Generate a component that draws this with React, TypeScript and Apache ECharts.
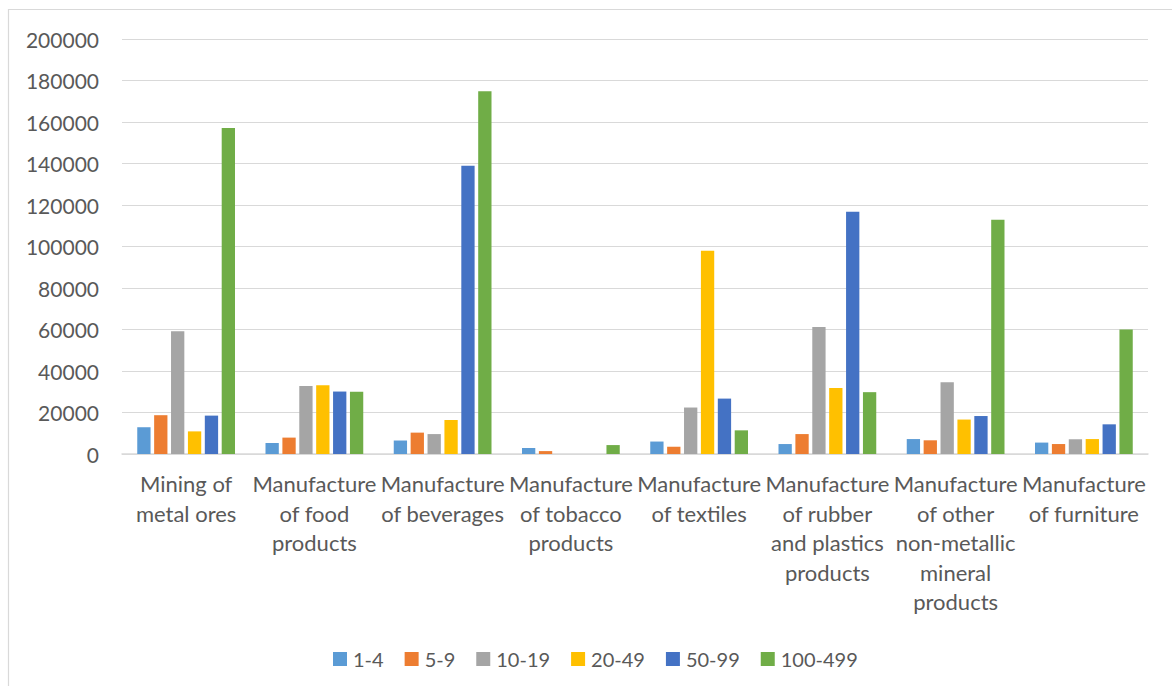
import React, { useEffect, useRef } from "react";
import * as echarts from "echarts";

// Industry groups on the category axis (line breaks as they wrap under each group)
const categories: string[] = [
  "Mining of\nmetal ores",
  "Manufacture\nof food\nproducts",
  "Manufacture\nof beverages",
  "Manufacture\nof tobacco\nproducts",
  "Manufacture\nof textiles",
  "Manufacture\nof rubber\nand plastics\nproducts",
  "Manufacture\nof other\nnon-metallic\nmineral\nproducts",
  "Manufacture\nof furniture",
];

// Size classes (number of persons employed)
const sizeClasses: string[] = ["1-4", "5-9", "10-19", "20-49", "50-99", "100-499"];

const size1to4: number[] = [12900, 5300, 6500, 2900, 6000, 4800, 7200, 5500];
const size5to9: number[] = [18700, 7900, 10300, 1400, 3500, 9600, 6600, 4800];
const size10to19: number[] = [59200, 32800, 9600, 0, 22400, 61200, 34600, 7100];
const size20to49: number[] = [10900, 33100, 16400, 0, 97900, 31800, 16600, 7200];
const size50to99: number[] = [18500, 30100, 138900, 0, 26700, 116700, 18300, 14300];
const size100to499: number[] = [157100, 30000, 174800, 4300, 11400, 29800, 112900, 60000];

const seriesValues: number[][] = [
  size1to4,
  size5to9,
  size10to19,
  size20to49,
  size50to99,
  size100to499,
];

const palette: string[] = ["#5B9BD5", "#ED7D31", "#A5A5A5", "#FFC000", "#4472C4", "#70AD47"];

const FONT = "Lato, 'Liberation Sans', sans-serif";
const TEXT_COLOR = "#595959";
const LINE_COLOR = "#D9D9D9";

export default function App() {
  const ref = useRef<HTMLDivElement>(null);

  useEffect(() => {
    if (!ref.current) return;
    const chart = echarts.init(ref.current, undefined, { renderer: "svg" });

    chart.setOption({
      animation: false,
      backgroundColor: "#ffffff",
      color: palette,
      textStyle: { fontFamily: FONT },
      graphic: [
        {
          type: "polyline",
          shape: {
            points: [
              [8.5, 686],
              [8.5, 9.5],
              [1172, 9.5],
            ],
          },
          style: { stroke: LINE_COLOR, fill: "none", lineWidth: 1.2 },
          silent: true,
        },
      ],
      grid: {
        left: 122,
        top: 39,
        width: 1026,
        height: 415,
        containLabel: false,
      },
      legend: {
        data: sizeClasses,
        left: 333,
        top: 649,
        padding: 0,
        icon: "rect",
        itemWidth: 14,
        itemHeight: 14,
        itemGap: 21,
        textStyle: {
          color: TEXT_COLOR,
          fontSize: 20,
          fontFamily: FONT,
          lineHeight: 14,
          padding: [0, 0, 0, 1],
        },
      },
      xAxis: {
        type: "category",
        data: categories,
        axisLine: { show: true, lineStyle: { color: LINE_COLOR, width: 1.5 } },
        axisTick: { show: false },
        axisLabel: {
          interval: 0,
          margin: 15,
          color: TEXT_COLOR,
          fontSize: 22,
          lineHeight: 29.5,
          fontFamily: FONT,
          align: "center",
        },
      },
      yAxis: {
        type: "value",
        min: 0,
        max: 200000,
        interval: 20000,
        axisLine: { show: false },
        axisTick: { show: false },
        splitLine: { lineStyle: { color: LINE_COLOR, width: 1.2 } },
        axisLabel: {
          margin: 23,
          color: TEXT_COLOR,
          fontSize: 21,
          fontFamily: FONT,
          formatter: (v: number) => String(v),
        },
      },
      series: sizeClasses.map((name, i) => ({
        name,
        type: "bar",
        data: seriesValues[i],
        barWidth: 13.3,
        barGap: "27%",
        itemStyle: { color: palette[i] },
      })),
    });

    return () => chart.dispose();
  }, []);

  return (
    <div
      ref={ref}
      style={{ position: "fixed", left: 0, top: 0, width: 1172, height: 686 }}
    />
  );
}
